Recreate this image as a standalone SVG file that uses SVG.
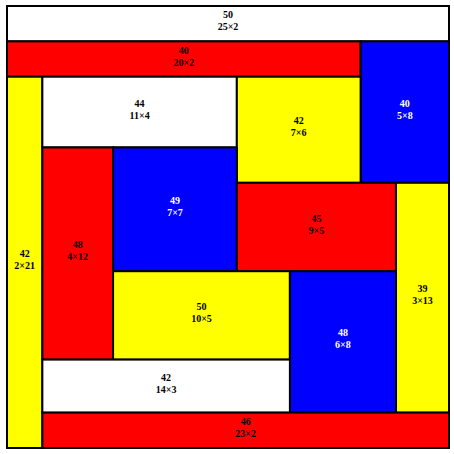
<svg xmlns="http://www.w3.org/2000/svg" width="454" height="454" viewBox="0 0 454 454">
<style>
rect{stroke:#000;stroke-width:2}
.w{fill:#fff}.r{fill:#f00}.b{fill:#00f}.y{fill:#ff0}
text{font-family:"Liberation Serif","Times New Roman",serif;font-size:10px;font-weight:bold;text-anchor:middle;fill:#000}
.b+text{fill:#fff}
</style>
<g id="n1"><rect class="w" x="7" y="6" width="442" height="35.36"/><text x="228" y="18"><tspan x="228">50</tspan><tspan x="228" y="30">25×2</tspan></text></g>
<g id="n2"><rect class="r" x="7" y="41.36" width="353.6" height="35.36"/><text x="183.8" y="53.5"><tspan x="183.8">40</tspan><tspan x="183.8" y="65.5">20×2</tspan></text></g>
<g id="n3"><rect class="b" x="360.6" y="41.36" width="88.4" height="141.44"/><text x="404.8" y="106.5"><tspan x="404.8">40</tspan><tspan x="404.8" y="118.5">5×8</tspan></text></g>
<g id="n4"><rect class="y" x="7" y="76.72" width="35.36" height="371.28"/><text x="24.7" y="256.8"><tspan x="24.7">42</tspan><tspan x="24.7" y="268.8">2×21</tspan></text></g>
<g id="n5"><rect class="w" x="42.36" y="76.72" width="194.48" height="70.72"/><text x="139.6" y="106.5"><tspan x="139.6">44</tspan><tspan x="139.6" y="118.5">11×4</tspan></text></g>
<g id="n6"><rect class="y" x="236.84" y="76.72" width="123.76" height="106.08"/><text x="298.7" y="124.2"><tspan x="298.7">42</tspan><tspan x="298.7" y="136.2">7×6</tspan></text></g>
<g id="n7"><rect class="r" x="42.36" y="147.44" width="70.72" height="212.16"/><text x="77.7" y="248"><tspan x="77.7">48</tspan><tspan x="77.7" y="260">4×12</tspan></text></g>
<g id="n8"><rect class="b" x="113.08" y="147.44" width="123.76" height="123.76"/><text x="175" y="203.8"><tspan x="175">49</tspan><tspan x="175" y="215.8">7×7</tspan></text></g>
<g id="n9"><rect class="r" x="236.84" y="182.8" width="159.12" height="88.4"/><text x="316.4" y="221.5"><tspan x="316.4">45</tspan><tspan x="316.4" y="233.5">9×5</tspan></text></g>
<g id="n10"><rect class="y" x="395.96" y="182.8" width="53.04" height="229.84"/><text x="422.5" y="292.2"><tspan x="422.5">39</tspan><tspan x="422.5" y="304.2">3×13</tspan></text></g>
<g id="n11"><rect class="y" x="113.08" y="271.2" width="176.8" height="88.4"/><text x="201.5" y="309.9"><tspan x="201.5">50</tspan><tspan x="201.5" y="321.9">10×5</tspan></text></g>
<g id="n12"><rect class="b" x="289.88" y="271.2" width="106.08" height="141.44"/><text x="342.9" y="336.4"><tspan x="342.9">48</tspan><tspan x="342.9" y="348.4">6×8</tspan></text></g>
<g id="n13"><rect class="w" x="42.36" y="359.6" width="247.52" height="53.04"/><text x="166.1" y="380.6"><tspan x="166.1">42</tspan><tspan x="166.1" y="392.6">14×3</tspan></text></g>
<g id="n14"><rect class="r" x="42.36" y="412.64" width="406.64" height="35.36"/><text x="245.7" y="424.8"><tspan x="245.7">46</tspan><tspan x="245.7" y="436.8">23×2</tspan></text></g>
<g id="connectors"></g>
</svg>
